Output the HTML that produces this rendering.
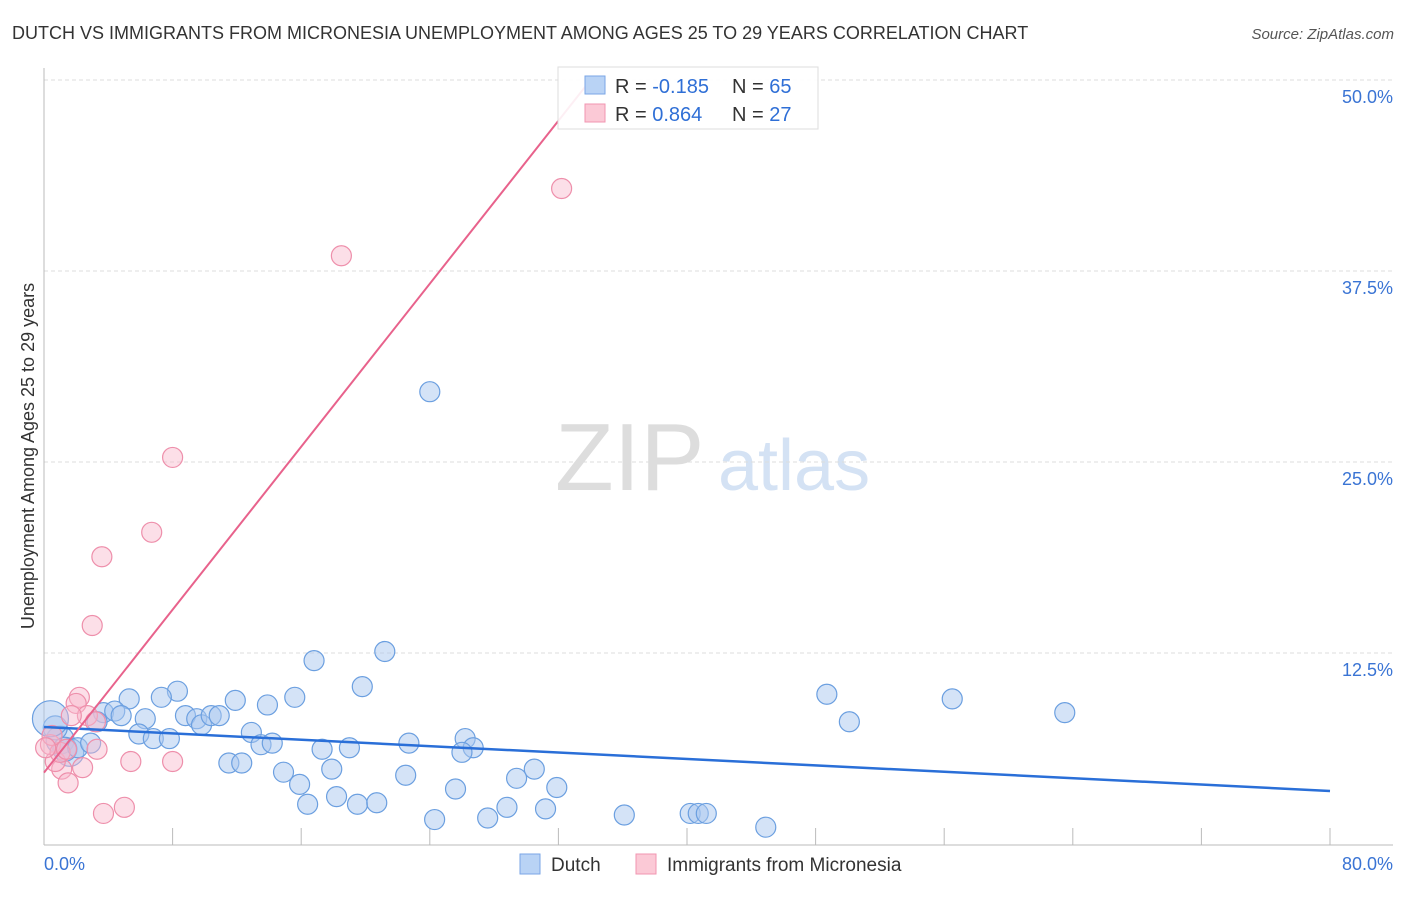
<!DOCTYPE html>
<html><head><meta charset="utf-8"><style>
body{margin:0;background:#fff;font-family:"Liberation Sans",sans-serif;}
svg text{font-family:"Liberation Sans",sans-serif;}
</style></head><body>
<svg id="chart" width="1406" height="892" xmlns="http://www.w3.org/2000/svg">
<text x="12" y="39" font-size="18" fill="#333">DUTCH VS IMMIGRANTS FROM MICRONESIA UNEMPLOYMENT AMONG AGES 25 TO 29 YEARS CORRELATION CHART</text>
<text x="1394" y="39" font-size="15" fill="#555" text-anchor="end" font-style="italic">Source: ZipAtlas.com</text>
<g>
<text x="555" y="490" font-size="96" fill="#ddd" font-family="Liberation Serif,serif">ZIP</text>
<text x="718" y="490" font-size="72" fill="#d4e2f4">atlas</text>
</g>
<g id="grid"></g><g id="axes"></g><g id="pts"></g><g id="lines"></g>
<text transform="translate(34,456) rotate(-90)" font-size="18" fill="#333" text-anchor="middle">Unemployment Among Ages 25 to 29 years</text>
<g>
<rect x="558" y="67" width="260" height="62" fill="#fff" fill-opacity="0.9" stroke="#ddd"/>
<rect x="585" y="76" width="20" height="18" fill="#b9d3f5" stroke="#7aa6e6"/>
<rect x="585" y="104" width="20" height="18" fill="#fbc9d6" stroke="#f195b0"/>
<text x="615" y="93" font-size="20" fill="#333">R = <tspan fill="#2f6fd6">-0.185</tspan><tspan x="732">N = </tspan><tspan fill="#2f6fd6">65</tspan></text>
<text x="615" y="121" font-size="20" fill="#333">R = <tspan fill="#2f6fd6"> 0.864</tspan><tspan x="732">N = </tspan><tspan fill="#2f6fd6">27</tspan></text>
</g>
<g>
<rect x="520" y="854" width="20" height="20" fill="#b9d3f5" stroke="#7aa6e6"/>
<text x="551" y="871" font-size="19" fill="#333">Dutch</text>
<rect x="636" y="854" width="20" height="20" fill="#fbc9d6" stroke="#f195b0"/>
<text x="667" y="871" font-size="19" fill="#333">Immigrants from Micronesia</text>
</g>
</svg>
<script>
const yTicks=[12.5,25,37.5,50];
const yTickLabels=["12.5%","25.0%","37.5%","50.0%"];
const xTicks=[0,8,16,24,32,40,48,56,64,72,80];
const xEndLabels=["0.0%","80.0%"];
const dutchX=[24.0,16.8,21.2,19.8,8.3,5.3,7.3,11.9,13.9,15.6,48.7,56.5,63.5,50.1,3.7,4.4,4.8,3.3,6.3,8.8,9.5,9.8,10.4,10.9,12.9,5.9,6.8,7.8,13.5,14.2,17.3,19.0,22.7,26.2,26.7,26.0,11.5,12.3,14.9,17.9,22.5,30.5,29.4,31.9,15.9,25.6,18.2,16.4,19.5,20.7,28.8,31.2,24.3,27.6,36.1,40.2,40.7,41.2,44.9,1.0,1.6,1.3,2.1,2.9,0.7,0.4];
const dutchY=[29.6,12.0,12.6,10.3,10.0,9.5,9.6,9.4,9.1,9.6,9.8,9.5,8.6,8.0,8.6,8.7,8.4,8.0,8.2,8.4,8.2,7.8,8.4,8.4,7.3,7.2,6.9,6.9,6.5,6.6,6.2,6.3,6.6,6.9,6.3,6.0,5.3,5.3,4.7,4.9,4.5,4.9,4.3,3.7,3.9,3.6,3.1,2.6,2.6,2.7,2.4,2.3,1.6,1.7,1.9,2.0,2.0,2.0,1.1,6.8,6.0,6.2,6.3,6.6,7.6,8.2];
const dutchR=[10,10,10,10,10,10,10,10,10,10,10,10,10,10,10,10,10,10,10,10,10,10,10,10,10,10,10,10,10,10,10,10,10,10,10,10,10,10,10,10,10,10,10,10,10,10,10,10,10,10,10,10,10,10,10,10,10,10,10,14,14,12,10,10,12,18];
const micX=[32.2,18.5,8.0,6.7,3.6,3.0,2.2,2.0,2.7,1.7,3.2,3.3,5.4,8.0,2.4,1.1,0.7,1.5,3.7,5.0,0.4,1.0,0.5,1.4,0.1];
const micY=[42.9,38.5,25.3,20.4,18.8,14.3,9.6,9.2,8.4,8.4,8.0,6.2,5.4,5.4,5.0,4.9,5.4,4.0,2.0,2.4,6.5,6.0,7.1,6.2,6.3];
const dutchTrend=[[0,7.66],[80,3.47]];
const micTrend=[[0,4.67],[34.0,50]];
const NS="http://www.w3.org/2000/svg";
const X=v=>44+v*(1286/80), Y=v=>844-v*(764/50);
function mk(t,a,p){const e=document.createElementNS(NS,t);for(const k in a)e.setAttribute(k,a[k]);document.getElementById(p).appendChild(e);return e;}
yTicks.forEach((t,i)=>{
 const l=mk('line',{x1:44,x2:1393,y1:Y(t),y2:Y(t),stroke:'#ddd','stroke-dasharray':'4,3'},'grid');
 
 
 const tx=mk('text',{x:1393,y:Y(t)+23,'font-size':18,fill:'#3a74d4','text-anchor':'end'},'grid');
 tx.textContent=yTickLabels[i];
 
 
});
const ax=mk('line',{x1:44,x2:44,y1:68,y2:845,stroke:'#bbb'},'axes');


const bx=mk('line',{x1:44,x2:1393,y1:845,y2:845,stroke:'#bbb'},'axes');


xTicks.forEach(t=>{
 const l=mk('line',{x1:X(t),x2:X(t),y1:828,y2:845,stroke:'#bbb'},'axes');
 
 
});
const xl0=mk('text',{x:44,y:870,'font-size':18,fill:'#3a74d4'},'axes');xl0.textContent=xEndLabels[0];


const xl1=mk('text',{x:1393,y:870,'font-size':18,fill:'#3a74d4','text-anchor':'end'},'axes');xl1.textContent=xEndLabels[1];


dutchX.forEach((v,i)=>{
 const c=mk('circle',{cx:X(v),cy:Y(dutchY[i]),r:dutchR[i],fill:'#a9c8f0','fill-opacity':0.5,stroke:'#6b9fe0','stroke-width':1.2},'pts');
 
 
});
micX.forEach((v,i)=>{
 const c=mk('circle',{cx:X(v),cy:Y(micY[i]),r:10,fill:'#f9b9cb','fill-opacity':0.45,stroke:'#ee8fab','stroke-width':1.2},'pts');
 
 
});
const l1=mk('line',{x1:X(dutchTrend[0][0]),y1:Y(dutchTrend[0][1]),x2:X(dutchTrend[1][0]),y2:Y(dutchTrend[1][1]),stroke:'#2a6fd8','stroke-width':2.5},'lines');


const l2=mk('line',{x1:X(micTrend[0][0]),y1:Y(micTrend[0][1]),x2:X(micTrend[1][0]),y2:Y(micTrend[1][1]),stroke:'#e8628c','stroke-width':2},'lines');


</script>
</body></html>
